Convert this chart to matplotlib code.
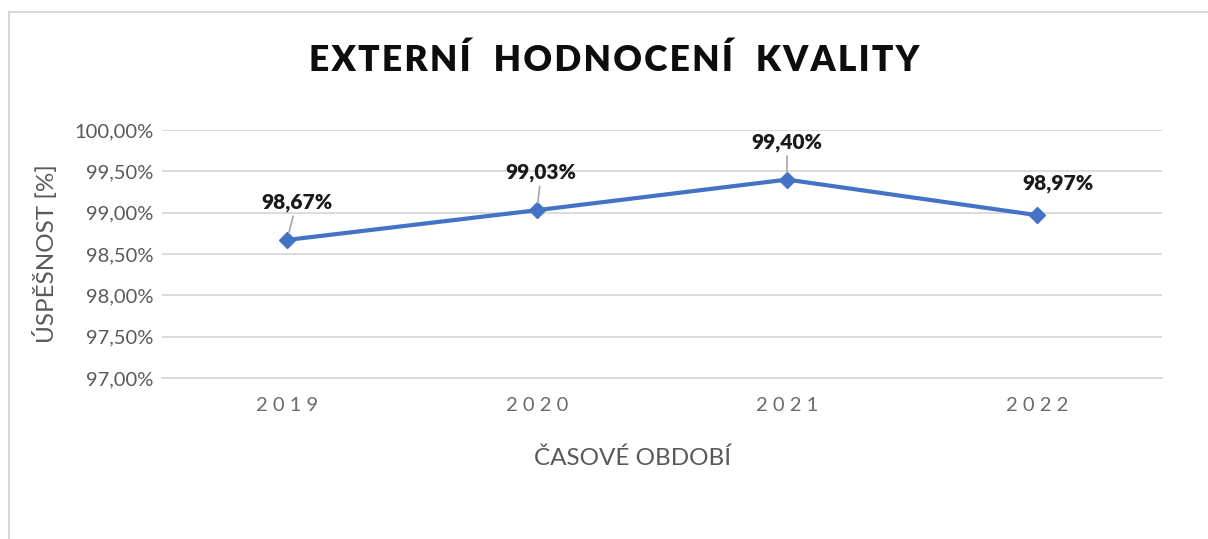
import matplotlib.pyplot as plt
from matplotlib.patches import Rectangle
from matplotlib.ticker import FuncFormatter

years = ["2019", "2020", "2021", "2022"]
success = [98.67, 99.03, 99.40, 98.97]
label_offsets = [(7, 20), (3, 20), (0, 20), (15, 16)]
leader = [True, True, True, False]

plt.rcParams['font.family'] = ['Lato', 'DejaVu Sans']

fig = plt.figure(figsize=(12.08, 5.39), dpi=100)
ax = fig.add_axes([162 / 1208, 1 - 378 / 539, 1000 / 1208, 248 / 539])

# chart border (Excel-like frame), runs off the right and bottom edges
fig.patches.append(Rectangle((9 / 1208, -0.1), 1.2, 1.1 - 12 / 539, transform=fig.transFigure,
                             fill=False, edgecolor='#d9d9d9', linewidth=1.5))

x = range(len(years))
ax.plot(x, success, color='#4472c4', linewidth=3, marker='D', markersize=8,
        solid_capstyle='round', zorder=3)

for i, v in enumerate(success):
    label = "{:.2f}%".format(v).replace(".", ",")
    arrow = dict(arrowstyle='-', color='#a6a6a6', lw=1.2, shrinkA=1, shrinkB=5) if leader[i] else None
    ax.annotate(label, xy=(i, v), xytext=label_offsets[i], textcoords='offset points',
                ha='center', va='bottom', fontsize=15, fontweight='heavy', color='#1a1a1a',
                arrowprops=arrow)

ax.set_xlim(-0.5, 3.5)
ax.set_ylim(97.0, 100.0)
ax.set_yticks([97.0, 97.5, 98.0, 98.5, 99.0, 99.5, 100.0])
ax.yaxis.set_major_formatter(FuncFormatter(lambda v, p: "{:.2f}%".format(v).replace(".", ",")))
ax.set_xticks(list(x))
ax.set_xticklabels([" ".join(y) for y in years])
ax.grid(axis='y', color='#d9d9d9', linewidth=1.3)
ax.set_axisbelow(True)
for s in ['top', 'right', 'left']:
    ax.spines[s].set_visible(False)
ax.spines['bottom'].set_color('#d9d9d9')
ax.spines['bottom'].set_linewidth(1.3)
ax.tick_params(axis='both', length=0, colors='#595959', labelsize=14.5)
ax.tick_params(axis='x', pad=14, labelcolor='#6b6b6b')
ax.tick_params(axis='y', pad=6)

ax.set_ylabel("ÚSPĚŠNOST [%]", fontsize=17.5, color='#595959', labelpad=12)
fig.text(633 / 1208, 1 - 458 / 539, "ČASOVÉ OBDOBÍ", ha='center', va='center',
         fontsize=17.5, color='#595959')

fig.text(614 / 1208, 1 - 60 / 539, "\u200a".join("EXTERNÍ  HODNOCENÍ  KVALITY"),
         ha='center', va='center', fontsize=25.5, fontweight='heavy', color='#0d0d0d')

plt.savefig("out.png", dpi=100)
